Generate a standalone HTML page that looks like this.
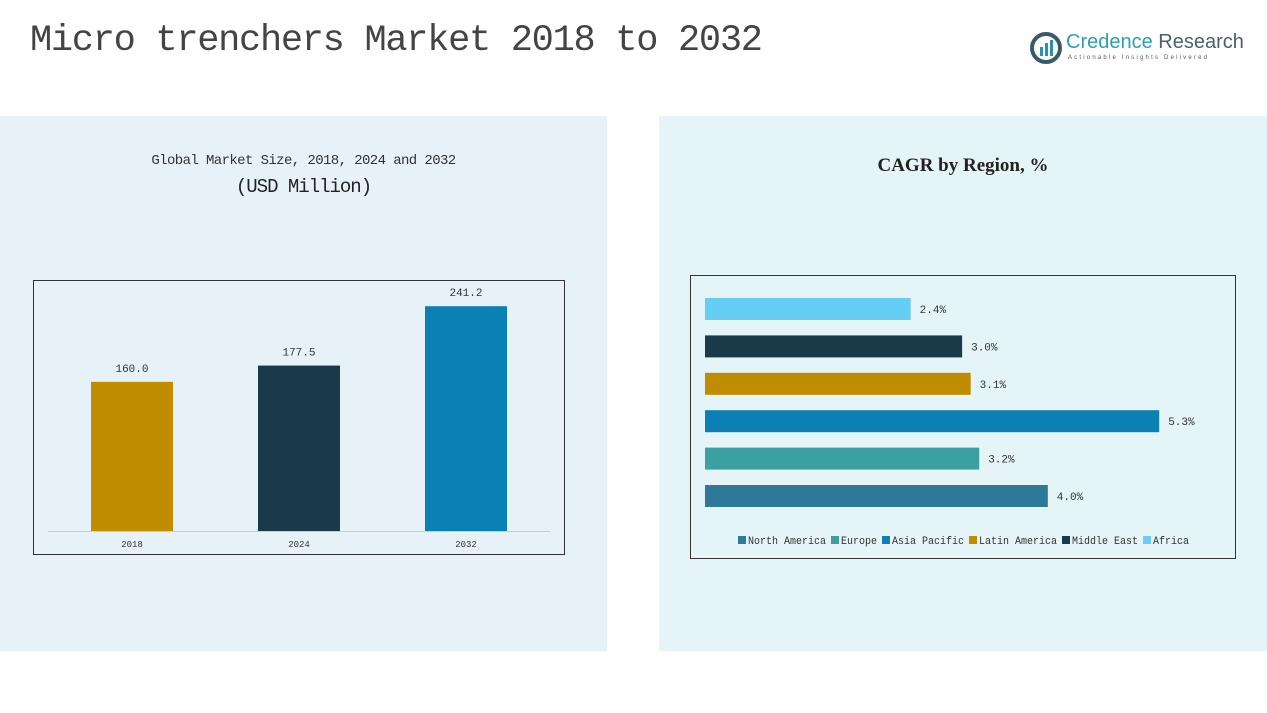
<!DOCTYPE html>
<html><head><meta charset="utf-8"><style>
body{margin:0;width:1267px;height:713px;background:#fff;position:relative;overflow:hidden;font-family:"Liberation Mono","Noto Sans CJK SC",monospace}
.abs{position:absolute}
</style></head><body>
<div class="abs" style="left:0;top:116px;width:607px;height:535px;background:#e7f2f8"></div>
<div class="abs" style="left:659px;top:116px;width:608px;height:535px;background:#e5f4f6"></div>
<div class="abs" style="left:30px;top:20px;font-size:37px;color:#444;font-family:'Liberation Mono',monospace;letter-spacing:-1.3px">Micro trenchers Market 2018 to 2032</div>
<div class="abs" style="left:1030px;top:30px;width:210px;height:36px">
<svg width="32" height="32" style="position:absolute;left:0;top:2px"><circle cx="16" cy="16" r="14" fill="none" stroke="#3a5a6a" stroke-width="4"/><rect x="10" y="15" width="3" height="9" fill="#2a8fb0"/><rect x="15" y="11" width="3" height="13" fill="#2a8fb0"/><rect x="20" y="8" width="3" height="16" fill="#2a8fb0"/></svg>
<div style="position:absolute;left:36px;top:1px;font-family:'Liberation Sans',sans-serif;font-size:20px;color:#2a9fb5;white-space:nowrap">Credence <span style="color:#4a6170">Research</span></div>
<div style="position:absolute;left:38px;top:25px;font-family:'Liberation Sans',sans-serif;font-size:6px;letter-spacing:2.2px;color:#555;white-space:nowrap">Actionable Insights Delivered</div>
</div>
<div class="abs" style="left:0;width:607px;top:153px;text-align:center;font-size:14px;color:#333;font-family:'Liberation Mono',monospace;letter-spacing:-0.6px">Global Market Size, 2018, 2024 and 2032</div>
<div class="abs" style="left:0;width:607px;top:176px;text-align:center;font-size:19px;color:#222;font-family:'Liberation Mono',monospace;letter-spacing:-1px">(USD Million)</div>
<div class="abs" style="left:659px;width:608px;top:155px;text-align:center;font-size:19px;color:#222;font-family:'Liberation Serif',serif;font-weight:bold">CAGR by Region, %</div>
<svg class="abs" style="left:0;top:0" width="1267" height="713" id="svg">
<rect x="33.5" y="280.5" width="531" height="274" fill="none" stroke="#333"/>
<line x1="48" y1="531.5" x2="550" y2="531.5" stroke="#ccc"/>
<rect x="690.5" y="275.5" width="545" height="283" fill="none" stroke="#333"/>
<g id="left"></g><g id="right"></g>
</svg>
<script>
const years=["2018","2024","2032"];
const sizes=[160.0,177.5,241.2];
const sizeColors=["#c08c00","#1a3a4a","#0a80b5"];
const regions=["Africa","Middle East","Latin America","Asia Pacific","Europe","North America"];
const cagr=[2.4,3.0,3.1,5.3,3.2,4.0];
const regionColors=["#66cdf5","#1a3a4a","#c08c00","#0a80b5","#3aa0a0","#2e7898"];
const legendOrder=["North America","Europe","Asia Pacific","Latin America","Middle East","Africa"];
const NS="http://www.w3.org/2000/svg";
function mk(t,a,p){const e=document.createElementNS(NS,t);for(const k in a)e.setAttribute(k,a[k]);p.appendChild(e);return e;}
const L=document.getElementById('left'),R=document.getElementById('right');
const yS=v=>531-v*0.932, xC=i=>132+i*167;
years.forEach((y,i)=>{
 const b=mk('rect',{x:xC(i)-41,y:yS(sizes[i]),width:82,height:531-yS(sizes[i]),fill:sizeColors[i]},L);
 
 
 const t=mk('text',{x:xC(i),y:yS(sizes[i])-10,'text-anchor':'middle','font-size':11,fill:'#333','font-family':'Liberation Mono,monospace'},L);t.textContent=sizes[i].toFixed(1);
 
 
 const l=mk('text',{x:xC(i),y:547,'text-anchor':'middle','font-size':9,fill:'#333','font-family':'Liberation Mono,monospace'},L);l.textContent=y;
 
 
});
const xS=v=>705+v*85.7, yR=i=>309+i*37.4;
regions.forEach((r,i)=>{
 const b=mk('rect',{x:705,y:yR(i)-11,width:xS(cagr[i])-705,height:22,fill:regionColors[i]},R);
 
 
 const t=mk('text',{x:xS(cagr[i])+9,y:yR(i)+4,'font-size':11,fill:'#333','font-family':'Liberation Mono,monospace'},R);t.textContent=cagr[i].toFixed(1)+'%';
 
 
});
let lx=738;
legendOrder.forEach(n=>{
 const c=regionColors[regions.indexOf(n)];
 const s=mk('rect',{x:lx,y:536,width:8,height:8,fill:c},R);
 
 
 const w=n.length*6;
 const t=mk('text',{x:lx+10,y:544,'font-size':11,fill:'#333','font-family':'Liberation Mono,monospace',textLength:w,lengthAdjust:'spacingAndGlyphs'},R);t.textContent=n;
 
 
 lx+=10+w+5;
});
</script>
</body></html>
